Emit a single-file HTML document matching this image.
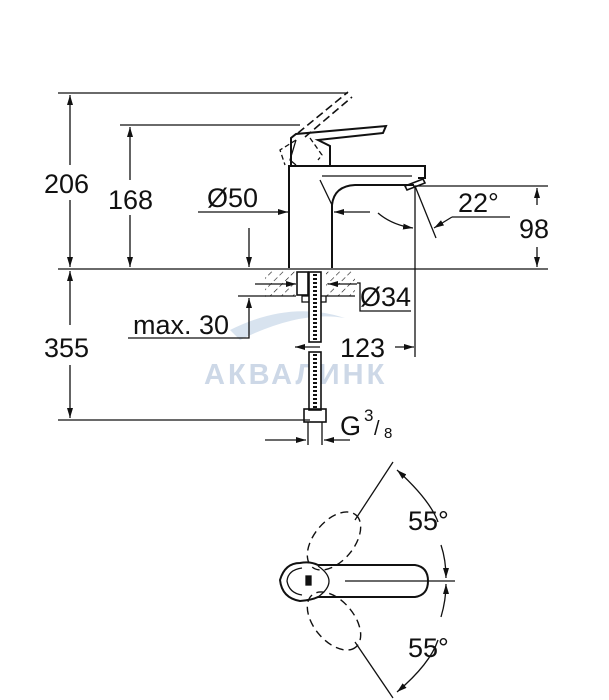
<!DOCTYPE html>
<html><head><meta charset="utf-8"><style>
html,body{margin:0;padding:0;background:#fff;width:609px;height:700px;overflow:hidden}
svg{display:block}
text{font-family:"Liberation Sans",sans-serif;fill:#111}
</style></head><body>
<svg width="609" height="700" viewBox="0 0 609 700" xmlns="http://www.w3.org/2000/svg">
<defs>
<marker id="a" viewBox="0 0 10 10" refX="10" refY="5" markerWidth="10" markerHeight="6" markerUnits="userSpaceOnUse" orient="auto-start-reverse" preserveAspectRatio="none"><path d="M0,0L10,5L0,10z" fill="#111"/></marker>
<pattern id="h" width="8" height="8" patternUnits="userSpaceOnUse" patternTransform="rotate(45)"><line x1="0" y1="0" x2="0" y2="8" stroke="#111" stroke-width="1.2" stroke-dasharray="5,3"/></pattern>
</defs>
<text x="204" y="384" font-size="29" font-weight="bold" style="fill:#cdd8e7;letter-spacing:3px">АКВАЛИНК</text>
<path d="M230,330 Q290,300 345,318 Q300,310 240,340z" fill="#d8e3ef"/>
<g stroke="#111" stroke-width="1.3" fill="none">
<line x1="58" y1="93" x2="348" y2="93"/>
<line x1="120" y1="125" x2="300" y2="125"/>
<line x1="58" y1="269" x2="548" y2="269"/>
<line x1="58" y1="420" x2="310" y2="420"/>
<line x1="413" y1="186" x2="548" y2="186"/>
<line x1="70" y1="95" x2="70" y2="165" marker-start="url(#a)"/>
<line x1="70" y1="200" x2="70" y2="267" marker-end="url(#a)"/>
<line x1="70" y1="271" x2="70" y2="325" marker-start="url(#a)"/>
<line x1="70" y1="365" x2="70" y2="418" marker-end="url(#a)"/>
<line x1="130" y1="127" x2="130" y2="180" marker-start="url(#a)"/>
<line x1="130" y1="215" x2="130" y2="267" marker-end="url(#a)"/>
<line x1="249" y1="228" x2="249" y2="267" marker-end="url(#a)"/>
<polyline points="128,338 249,338 249,298" marker-end="url(#a)"/>
<line x1="238" y1="296" x2="266" y2="296"/>
<line x1="198" y1="212" x2="288" y2="212" marker-end="url(#a)"/>
<line x1="370" y1="212" x2="334" y2="212" marker-end="url(#a)"/>
<path d="M289,268 V166 H425 V178 H418" stroke-width="2"/>
<path d="M332,268 V205 Q334,186 355,185 H414" stroke-width="2"/>
<path d="M322,176 L412,176"/>
<path d="M320,180 L332,205"/>
<path d="M405,186 L423,179 L425,183 L407,190z" stroke-width="1.6"/>
<path d="M291,165 V138 L296,134 L386,126 L383,133 L318,140 L330,146 V165" stroke-width="2"/>
<path d="M296,140 L290,160 L296,165"/>
<path d="M298,133 L348,92 M305,137 L352,97" stroke-dasharray="8,4" stroke-width="1.6"/>
<path d="M296,140 L280,150 L285,165 M310,138 L322,155 L318,160" stroke-dasharray="5,3"/>
<path d="M378,213 Q392,225 413,228" marker-end="url(#a)"/>
<line x1="415" y1="186" x2="436" y2="238"/>
<line x1="510" y1="217" x2="452" y2="217"/>
<line x1="452" y1="217" x2="434" y2="228" marker-end="url(#a)"/>
<line x1="537" y1="188" x2="537" y2="205" marker-start="url(#a)"/>
<line x1="537" y1="247" x2="537" y2="267" marker-end="url(#a)"/>
<line x1="415" y1="186" x2="415" y2="357"/>
<line x1="295" y1="347" x2="320" y2="347" marker-start="url(#a)"/>
<line x1="395" y1="347" x2="414" y2="347" marker-end="url(#a)"/>
<rect x="265" y="270" width="31" height="26" fill="url(#h)" stroke="none"/>
<rect x="326" y="270" width="29" height="26" fill="url(#h)" stroke="none"/>
<line x1="265" y1="296" x2="296" y2="296"/>
<line x1="326" y1="296" x2="355" y2="296"/>
<rect x="297" y="272" width="11" height="23" stroke-width="1.6"/>
<rect x="302" y="296" width="24" height="6"/>
<line x1="255" y1="284" x2="296" y2="284" marker-end="url(#a)"/>
<line x1="357" y1="284" x2="328" y2="284" marker-end="url(#a)"/>
<polyline points="357,283 360,283 360,311 411,311"/>
<rect x="309" y="272" width="12" height="70" fill="#fff" stroke-width="1.6"/>
<rect x="309" y="352" width="12" height="58" fill="#fff" stroke-width="1.6"/>
<line x1="315" y1="274" x2="315" y2="340" stroke-dasharray="2,2" stroke-width="4"/>
<line x1="315" y1="354" x2="315" y2="408" stroke-dasharray="2,2" stroke-width="4"/>
<rect x="304" y="409" width="22" height="13" stroke-width="1.6"/>
<line x1="308" y1="422" x2="308" y2="445"/>
<line x1="322" y1="422" x2="322" y2="445"/>
<line x1="265" y1="440" x2="306" y2="440" marker-end="url(#a)"/>
<line x1="350" y1="440" x2="324" y2="440" marker-end="url(#a)"/>
<path d="M300,563 Q285,563 280,580 Q282,598 300,601 Q312,600 318,597 H415 Q428,595 428,581 Q428,567 415,565 H318 Q310,561 300,563z" stroke-width="2"/>
<path d="M302,568 Q288,570 287,581 Q289,593 302,595 M318,566 Q340,581 318,597 M345,581 H455"/>
<rect x="306" y="576" width="5" height="9" fill="#111"/>
<g stroke-dasharray="8,5" stroke-width="1.4">
<ellipse cx="334" cy="541" rx="34" ry="20" transform="rotate(-50 334 541)"/>
<ellipse cx="334" cy="621" rx="34" ry="20" transform="rotate(50 334 621)"/>
</g>
<line x1="393" y1="462" x2="355" y2="520"/>
<line x1="355" y1="642" x2="393" y2="698"/>
<path d="M397,470 Q430,500 438,522" marker-start="url(#a)"/>
<path d="M441,545 Q446,560 446,578" marker-end="url(#a)"/>
<path d="M446,584 Q446,600 441,617" marker-start="url(#a)"/>
<path d="M438,640 Q430,664 397,692" marker-end="url(#a)"/>
</g>
<g font-size="27">
<text x="44" y="193">206</text>
<text x="108" y="209">168</text>
<text x="207" y="207">Ø50</text>
<text x="133" y="334">max. 30</text>
<text x="44" y="357">355</text>
<text x="360" y="306">Ø34</text>
<text x="340" y="357">123</text>
<text x="458" y="212">22°</text>
<text x="519" y="238">98</text>
<text x="408" y="530">55°</text>
<text x="408" y="657">55°</text>
<text x="340" y="435">G</text>
</g>
<text x="364" y="421" font-size="17">3</text>
<text x="374" y="435" font-size="20">/</text>
<text x="384" y="438" font-size="15">8</text>
</svg>
</body></html>
